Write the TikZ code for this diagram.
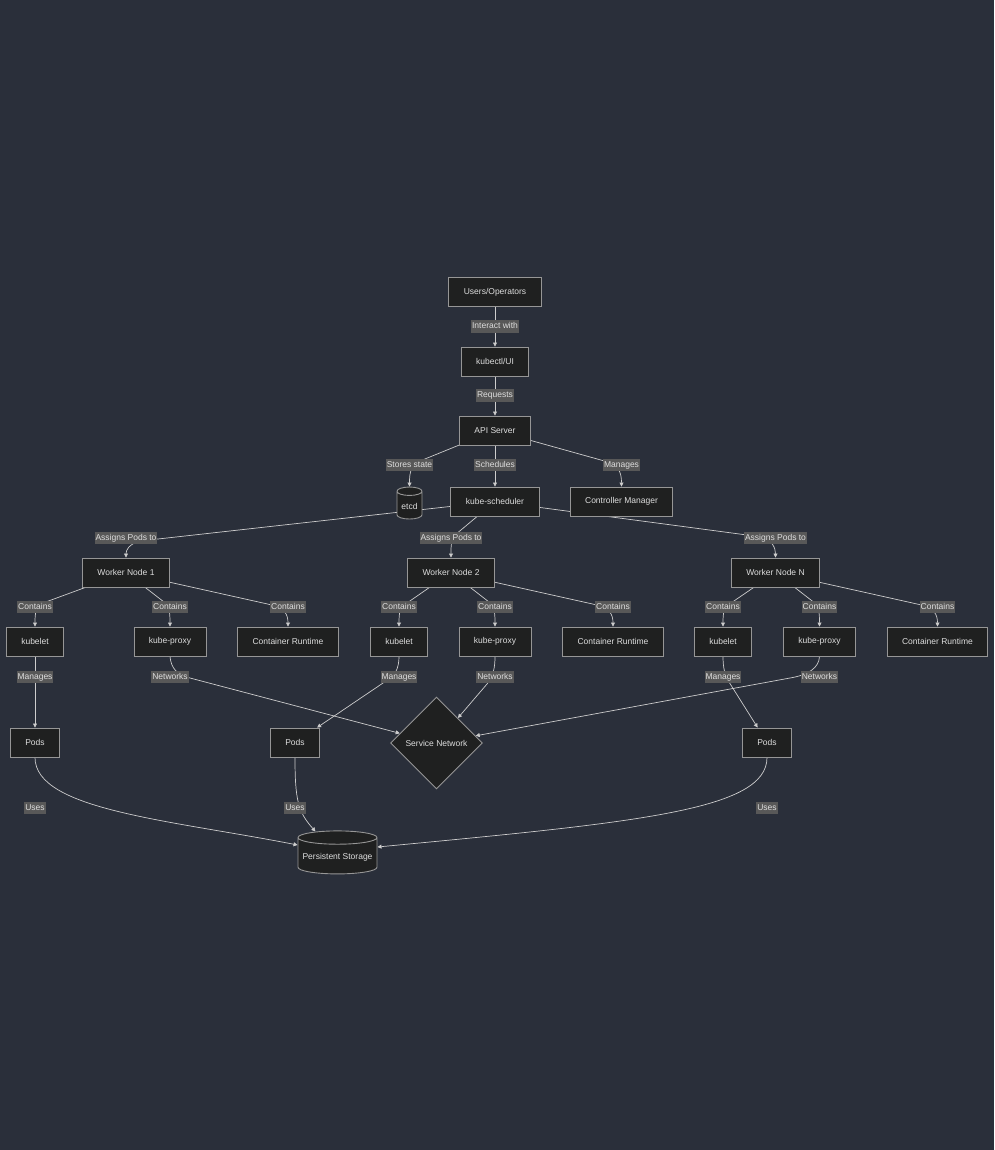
\documentclass[tikz,border=0pt]{standalone}
\usepackage{fontspec}
\setmainfont{Liberation Sans}
\usetikzlibrary{arrows.meta,shapes.geometric,calc}
\definecolor{NightBg}{RGB}{42,47,58}
\definecolor{BoxFill}{RGB}{31,32,32}
\definecolor{BoxLine}{RGB}{150,150,150}
\definecolor{WireGray}{RGB}{205,205,205}
\definecolor{TagFill}{RGB}{88,88,88}
\definecolor{TagText}{RGB}{222,222,222}
\pgfdeclarelayer{back}
\pgfdeclarelayer{wires}
\pgfsetlayers{back,wires,main}
\tikzset{
  box/.style={draw=BoxLine,fill=BoxFill,text=TagText,line width=0.9pt,
    minimum height=29pt,inner xsep=15pt,font=\fontsize{8.5}{10}\selectfont},
  store/.style={cylinder,shape border rotate=90,draw=BoxLine,fill=BoxFill,
    text=TagText,line width=0.9pt,inner sep=2pt,font=\fontsize{8.5}{10}\selectfont},
  hub/.style={diamond,draw=BoxLine,fill=BoxFill,text=TagText,line width=0.9pt,
    inner sep=0pt,minimum size=92pt,font=\fontsize{8.5}{10}\selectfont},
  tag/.style={fill=TagFill,text=TagText,inner xsep=1pt,inner ysep=2pt,
    text height=6.5pt,text depth=2pt,font=\fontsize{8.5}{10}\selectfont},
  wire/.style={-{Triangle[length=4pt,width=4pt]},WireGray,line width=0.7pt}
}

\begin{document}
\begin{tikzpicture}[x=1pt,y=-1pt]

\begin{pgfonlayer}{back}
\fill[NightBg] (0,0) rectangle (994,1150);
\end{pgfonlayer}

% Control plane
\node[box] (users) at (495,292) {Users/Operators};
\node[box] (kubectl) at (495,361.5) {kubectl/UI};
\node[box] (api) at (495,430.5) {API Server};
\node[store,minimum width=25pt,minimum height=32pt,aspect=0.42] (etcd) at (409.5,506.5) {\raisebox{-4pt}{etcd}};
\node[box] (sched) at (495,501.5) {kube-scheduler};
\node[box] (cm) at (621.5,501.5) {Controller Manager};

\node[tag] (t-int) at (495,326.5) {Interact with};
\node[tag] (t-req) at (495,395.5) {Requests};
\node[tag] (t-sto) at (409.5,465) {Stores state};
\node[tag] (t-sch) at (495,465) {Schedules};
\node[tag] (t-man) at (621.5,465) {Manages};

\begin{pgfonlayer}{wires}
\draw[wire] (users) -- (kubectl);
\draw[wire] (kubectl) -- (api);
\draw[wire] (api) -- (420,461) .. controls (411,465) and (409.5,472) .. (etcd.north);
\draw[wire] (api) -- (sched);
\draw[wire] (api) -- (608,462) .. controls (618,465) and (621.5,472) .. (cm.north);
\end{pgfonlayer}

% Worker nodes
\foreach \i/\x/\k/\n in {1/126/35/1, 2/451/399/2, n/775.5/723/N} {
  \node[box] (w\i) at (\x,572.5) {Worker Node \n};
  \node[box] (kl\i) at (\k,641.5) {kubelet};
  \node[box] (kp\i) at (\x+44,641.5) {kube-proxy};
  \node[box] (cr\i) at (\x+162,641.5) {Container Runtime};
  \node[tag] (t-as\i) at (\x,538) {Assigns Pods to};
  \node[tag] (t-kl\i) at (\k,607) {Contains};
  \node[tag] (t-kp\i) at (\x+44,607) {Contains};
  \node[tag] (t-cr\i) at (\x+162,607) {Contains};
  \node[tag] (t-mg\i) at (\k,677) {Manages};
  \node[tag] (t-nw\i) at (\x+44,677) {Networks};
  \begin{pgfonlayer}{wires}
  \draw[wire] (w\i) -- (\k+8,603) .. controls (\k+1,606) and (\k,612) .. (kl\i.north);
  \draw[wire] (w\i) -- (\x+38,602) .. controls (\x+43,605) and (\x+44,611) .. (kp\i.north);
  \draw[wire] (w\i) -- (\x+146,605) .. controls (\x+158,608) and (\x+162,614) .. (cr\i.north);
  \end{pgfonlayer}
}

% Pods, network, storage
\node[box] (pods1) at (35,742.5) {Pods};
\node[box] (pods2) at (295,742.5) {Pods};
\node[box] (podsn) at (767,742.5) {Pods};
\node[hub] (svc) at (436.5,743) {Service Network};
\node[store,minimum width=79pt,minimum height=43pt,aspect=0.18] (ps) at (337.5,857) {\raisebox{-5pt}{Persistent Storage}};

\node[tag] (t-us1) at (35,808) {Uses};
\node[tag] (t-us2) at (295,808) {Uses};
\node[tag] (t-usn) at (767,808) {Uses};

\begin{pgfonlayer}{wires}
\draw[wire] (sched) -- (140,541) .. controls (129,544) and (126,550) .. (w1.north);
\draw[wire] (sched) -- (455,535) .. controls (451,539) and (451,546) .. (w2.north);
\draw[wire] (sched) -- (762,537) .. controls (772,540) and (775.5,548) .. (wn.north);
\draw[wire] (kl1) -- (pods1);
\draw[wire] (kp1.south) .. controls (171,668) and (177,675) .. (190,678) -- (svc);
\draw[wire] (kl2.south) .. controls (399,668) and (395,677) .. (386,681) -- (pods2);
\draw[wire] (kp2.south) .. controls (495,668) and (493,677) .. (487,684) -- (svc);
\draw[wire] (kln.south) .. controls (723,668) and (725,676) .. (729,682) -- (podsn);
\draw[wire] (kpn.south) .. controls (819,668) and (808,675) .. (790,678) -- (svc);
\draw[wire] (pods1.south) .. controls (35,810) and (170,820) .. ([yshift=12pt]ps.west);
\draw[wire] (pods2.south) .. controls (295,800) and (298,812) .. ([xshift=-22pt,yshift=-1pt]ps.north);
\draw[wire] (podsn.south) .. controls (767,810) and (640,822) .. ([yshift=10pt]ps.east);
\end{pgfonlayer}

\end{tikzpicture}
\end{document}
